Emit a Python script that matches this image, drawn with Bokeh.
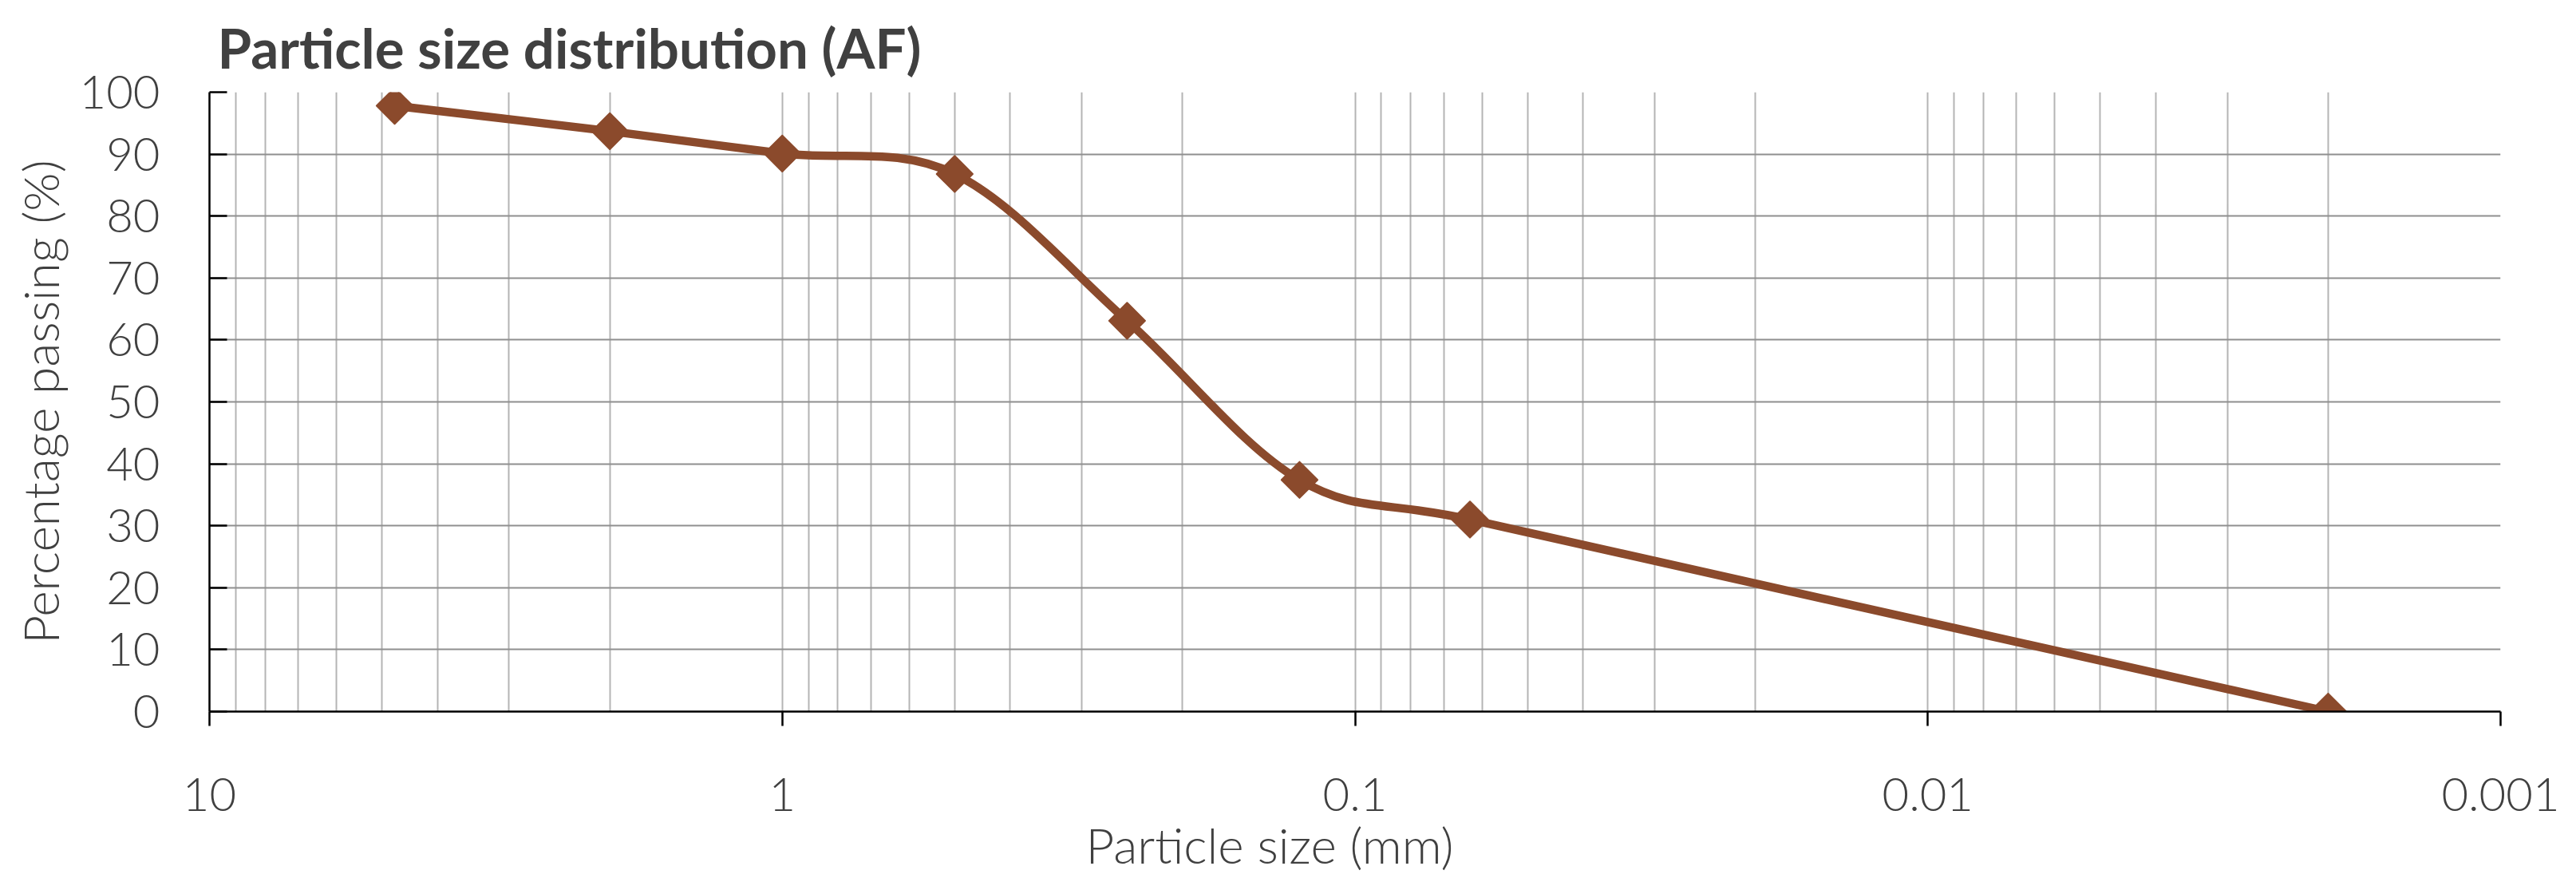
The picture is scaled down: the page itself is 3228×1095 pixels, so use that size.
import numpy as np
from bokeh.plotting import figure
from bokeh.models import Range1d, FixedTicker, CustomJSTickFormatter, Title
from bokeh.embed import file_html
from bokeh.resources import INLINE

# sieve results
particle_size = [4.75, 2.0, 1.0, 0.5, 0.25, 0.125, 0.063, 0.002]   # mm
percent_passing = [97.8, 93.7, 90.1, 86.8, 63.1, 37.4, 31.0, 0.0]  # %

x_ticks = [10, 1, 0.1, 0.01, 0.001]
x_minor = [m * 10.0 ** k for k in (-3, -2, -1, 0) for m in range(2, 10)]
y_ticks = list(range(0, 101, 10))

BROWN = "#8b4a2c"
TEXT = "#404040"
FONT = "Lato"
LIGHT = "Lato Light"

W, H = 3228, 1095
LEFT, RIGHT, TOP, BOTTOM = 262, 95, 113, 204
FRAME_W, FRAME_H = W - LEFT - RIGHT, H - TOP - BOTTOM

p = figure(width=W, height=H, x_axis_type="log",
           x_range=Range1d(10, 0.001), y_range=Range1d(0, 100),
           output_backend="svg", toolbar_location=None,
           min_border_left=LEFT, min_border_right=RIGHT,
           min_border_top=TOP, min_border_bottom=BOTTOM)
p.outline_line_color = None

# title
p.title.text = "Particle size distribution (AF)"
p.title.text_font = FONT
p.title.text_font_style = "bold"
p.title.text_font_size = "69px"
p.title.text_color = TEXT
p.title.align = "left"
p.title.offset = 10
p.title.standoff = 30

# x axis (log, reversed)
p.xaxis.ticker = FixedTicker(ticks=x_ticks)
p.xaxis.formatter = CustomJSTickFormatter(code="return tick.toString()")
p.xaxis.major_tick_out = 18
p.xaxis.major_tick_in = 0
p.xaxis.minor_tick_out = 0
p.xaxis.minor_tick_in = 0
p.xaxis.major_label_standoff = 65

# y axis
p.yaxis.ticker = FixedTicker(ticks=y_ticks)
p.yaxis.major_tick_in = 22
p.yaxis.major_tick_out = 0
p.yaxis.minor_tick_out = 0
p.yaxis.minor_tick_in = 0
p.yaxis.major_label_standoff = 62
p.yaxis.axis_label = "Percentage passing (%)"
p.yaxis.axis_label_standoff = 10
p.yaxis.axis_label_text_font = LIGHT
p.yaxis.axis_label_text_font_style = "normal"
p.yaxis.axis_label_text_font_size = "62px"
p.yaxis.axis_label_text_color = TEXT

for ax in (p.xaxis, p.yaxis):
    ax.axis_line_color = "black"
    ax.axis_line_width = 2.5
    ax.major_tick_line_color = "black"
    ax.major_tick_line_width = 2.5
    ax.major_label_text_font = LIGHT
    ax.major_label_text_font_size = "58px"
    ax.major_label_text_color = TEXT

# grid
p.xgrid.ticker = FixedTicker(ticks=x_ticks, minor_ticks=x_minor)
p.xgrid.grid_line_color = "#b4b4b4"
p.xgrid.grid_line_width = 2
p.xgrid.minor_grid_line_color = "#b4b4b4"
p.xgrid.minor_grid_line_width = 2
p.ygrid.ticker = FixedTicker(ticks=y_ticks)
p.ygrid.grid_line_color = "#8f8f8f"
p.ygrid.grid_line_width = 2

# x axis title, centred on the chart rather than on the plot frame
p.add_layout(Title(text="Particle size (mm)", align="left", offset=1098,
                   standoff=0, text_font=LIGHT, text_font_style="normal",
                   text_font_size="62px", text_color=TEXT), "below")

# smoothed line: Excel-style bezier segments, worked out in log-x space
lx = np.log10(particle_size)
py = np.array(percent_passing)
kx = FRAME_W / 4.0     # px per decade
ky = FRAME_H / 100.0   # px per percent


def dist(i, j):
    return np.hypot((lx[j] - lx[i]) * kx, (py[j] - py[i]) * ky)


n = len(lx)
x0, y0, x1, y1, cx0, cy0, cx1, cy1 = [], [], [], [], [], [], [], []
for i in range(n - 1):
    a = max(i - 1, 0)
    b = i + 1
    d = min(i + 2, n - 1)
    d12 = dist(i, b)
    d02 = dist(a, b)
    d13 = dist(i, d)
    f0 = 1 / 6 if d02 / 6 < d12 / 2 else d12 / d02 / 2
    f1 = 1 / 6 if d13 / 6 < d12 / 2 else d12 / d13 / 2
    x0.append(particle_size[i]); y0.append(py[i])
    x1.append(particle_size[b]); y1.append(py[b])
    cx0.append(10 ** (lx[i] + (lx[b] - lx[a]) * f0))
    cy0.append(py[i] + (py[b] - py[a]) * f0)
    cx1.append(10 ** (lx[b] - (lx[d] - lx[i]) * f1))
    cy1.append(py[b] - (py[d] - py[i]) * f1)

p.bezier(x0=x0, y0=y0, x1=x1, y1=y1, cx0=cx0, cy0=cy0, cx1=cx1, cy1=cy1,
         line_color=BROWN, line_width=10.5, line_cap="round")

# diamond markers
p.scatter(particle_size, percent_passing, marker="square", angle=np.pi / 4,
          size=32, fill_color=BROWN, line_color=BROWN, line_width=2,
          line_join="round")

open("out.html", "w").write(file_html(p, INLINE))
